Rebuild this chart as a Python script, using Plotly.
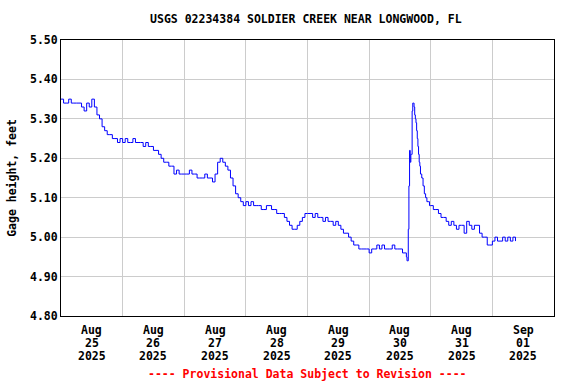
import pandas as pd
import plotly.graph_objects as go

# Gage height readings (feet); hour offsets from 2025-08-25 00:00
aug25 = [5.35,5.34,5.34,5.35,5.34,5.34,5.34,5.34,5.33,5.32,5.34,5.33,5.35,5.33,5.31,5.30,5.28,5.27,5.26,5.26,5.25,5.25,5.24,5.25]
aug26 = [5.24,5.25,5.24,5.24,5.25,5.24,5.24,5.24,5.23,5.24,5.23,5.23,5.22,5.22,5.21,5.20,5.19,5.19,5.18,5.18,5.16,5.17,5.16,5.16]
aug27 = [5.16,5.16,5.17,5.16,5.16,5.15,5.15,5.15,5.16,5.15,5.15,5.14,5.16,5.19,5.20,5.19,5.18,5.17,5.15,5.13,5.11,5.10,5.09,5.08]
aug28 = [5.09,5.08,5.09,5.08,5.08,5.08,5.07,5.07,5.08,5.08,5.07,5.07,5.06,5.06,5.06,5.05,5.04,5.03,5.02,5.02,5.03,5.04,5.05,5.06]
aug29 = [5.06,5.06,5.05,5.06,5.05,5.05,5.04,5.05,5.04,5.04,5.03,5.04,5.03,5.02,5.01,5.01,5.00,4.99,4.98,4.98,4.97,4.97,4.97,4.97]
aug30_pre = [4.96,4.97,4.97,4.98,4.97,4.98,4.97,4.97,4.97,4.98,4.97,4.97,4.97,4.96,4.96]
spike_hours = [134.5,134.75,135.0,135.25,135.5,135.75,136.0,136.25,136.5,136.75,137.0,137.25,137.5,137.75,138.0,
               138.25,138.5,138.75,139.0,139.25,139.5,139.75,140.0,140.5,141.0,141.5,142.0,142.5,143.0,143.5]
spike_vals = [4.95,4.94,4.94,5.02,5.13,5.22,5.19,5.21,5.21,5.32,5.34,5.34,5.33,5.31,5.30,
              5.29,5.27,5.25,5.23,5.21,5.19,5.18,5.16,5.15,5.13,5.11,5.10,5.09,5.09,5.08]
aug31_sep01 = [5.08,5.07,5.07,5.06,5.05,5.05,5.04,5.03,5.04,5.03,5.02,5.03,5.03,5.01,5.04,5.03,5.02,5.03,5.03,5.01,
               5.00,5.00,4.98,4.98,4.99,5.00,4.99,4.99,5.00,4.99,5.00,4.99,5.00,4.99]

y_ticks = [4.80, 4.90, 5.00, 5.10, 5.20, 5.30, 5.40, 5.50]
tick_dates = ["2025-08-25 12:00", "2025-08-26 12:00", "2025-08-27 12:00", "2025-08-28 12:00",
              "2025-08-29 12:00", "2025-08-30 12:00", "2025-08-31 12:00", "2025-09-01 12:00"]
tick_months = ["Aug", "Aug", "Aug", "Aug", "Aug", "Aug", "Aug", "Sep"]
tick_days = ["25", "26", "27", "28", "29", "30", "31", "01"]
tick_years = ["2025"] * 8
grid_dates = ["2025-08-26", "2025-08-27", "2025-08-28", "2025-08-29",
              "2025-08-30", "2025-08-31", "2025-09-01"]

hours = list(range(0, 135)) + spike_hours + list(range(144, 178))
values = aug25 + aug26 + aug27 + aug28 + aug29 + aug30_pre + spike_vals + aug31_sep01
assert len(hours) == len(values)

base = pd.Timestamp("2025-08-25 00:00")
times = [base + pd.Timedelta(hours=h) for h in hours]

FONT = "DejaVu Sans Mono"
FS = 11.5

fig = go.Figure()
fig.add_trace(go.Scatter(x=times, y=values, mode="lines",
                         line=dict(color="#0000ff", width=1, shape="hv"), showlegend=False))

fig.update_layout(
    width=576, height=384,
    margin=dict(l=58, r=22, t=40, b=68),
    paper_bgcolor="white", plot_bgcolor="white",
    font=dict(family=FONT, size=FS, color="black"),
    title=dict(text="<b>USGS 02234384 SOLDIER CREEK NEAR LONGWOOD, FL</b>",
               x=0.531, xanchor="center", y=0.95, yanchor="middle",
               font=dict(family=FONT, size=FS, color="black")),
)
fig.update_xaxes(
    type="date", range=["2025-08-25", "2025-09-02"],
    tickvals=grid_dates, showticklabels=False,
    showgrid=True, gridcolor="#cccccc", gridwidth=1,
    showline=True, linecolor="black", linewidth=1, mirror=True,
    ticks="", zeroline=False,
)
fig.update_yaxes(
    range=[4.80, 5.50], tickvals=y_ticks,
    ticktext=["<b>%.2f</b>" % v for v in y_ticks],
    showgrid=True, gridcolor="#cccccc", gridwidth=1,
    showline=True, linecolor="black", linewidth=1, mirror=True,
    ticks="", zeroline=False,
    title=dict(text="<b>Gage height, feet</b>", standoff=10,
               font=dict(family=FONT, size=FS, color="black")),
    tickfont=dict(family=FONT, size=FS, color="black"),
)

for d, m, dd, yy in zip(tick_dates, tick_months, tick_days, tick_years):
    for txt, shift in ((m, -14), (dd, -27), (yy, -40)):
        fig.add_annotation(text="<b>%s</b>" % txt, x=d, xref="x", y=0, yref="paper",
                           yshift=shift, xanchor="center", yanchor="middle",
                           showarrow=False,
                           font=dict(family=FONT, size=FS, color="black"))

fig.add_annotation(text="<b>---- Provisional Data Subject to Revision ----</b>",
                   xref="paper", yref="paper", x=0.5, y=0, yshift=-58,
                   xanchor="center", yanchor="middle", showarrow=False,
                   font=dict(family=FONT, size=FS, color="red"))

fig.write_html("out.html", config={"displayModeBar": False},
               post_script="document.body.style.margin='0';")
